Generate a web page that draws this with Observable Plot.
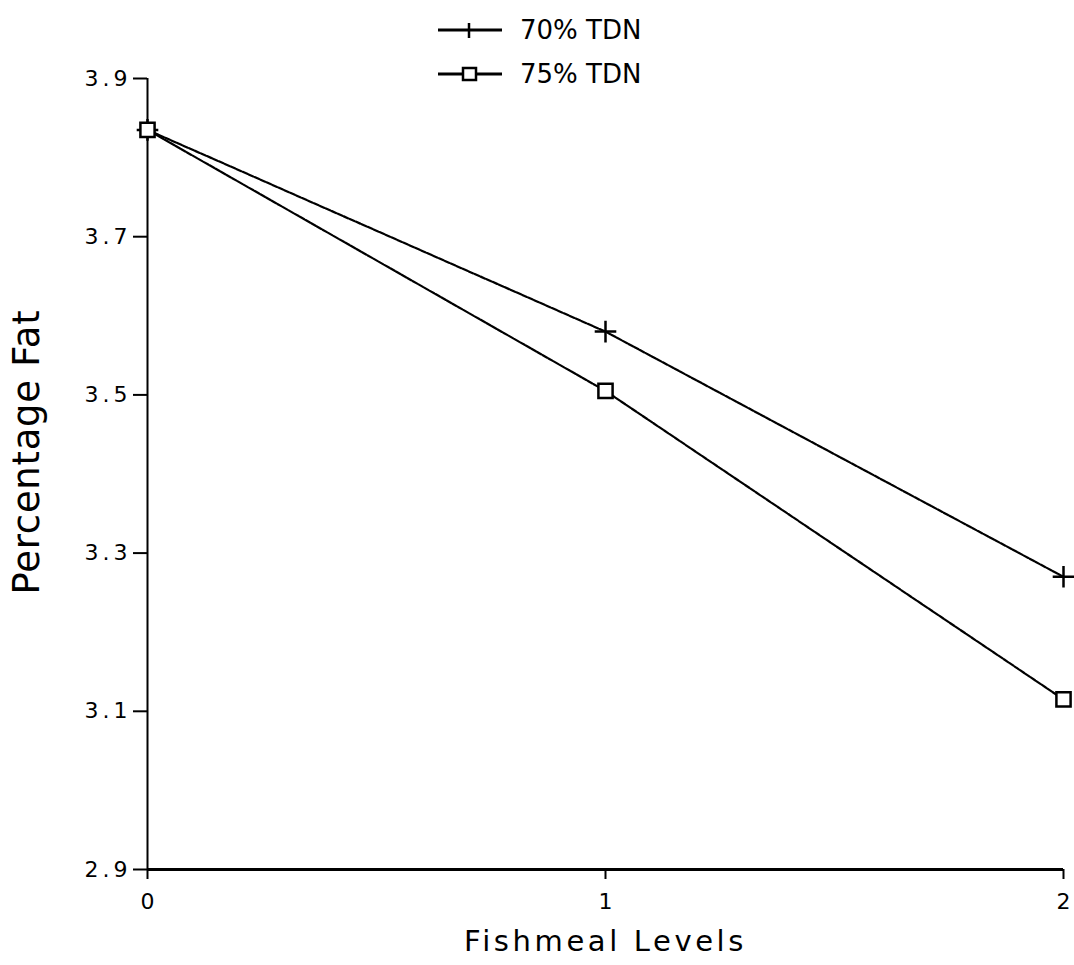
<!DOCTYPE html>
<html>
<head>
<meta charset="utf-8">
<script src="https://cdn.jsdelivr.net/npm/d3@7"></script>
<script src="https://cdn.jsdelivr.net/npm/@observablehq/plot@0.6"></script>
<style>
  body { margin: 0; background: #fff; font-family: "DejaVu Sans", sans-serif; }
  #wrap { position: relative; width: 1074px; height: 965px; }
  #legend { position: absolute; left: 438px; top: 8px; font-size: 26px; color: #000; }
  #legend .row { display: flex; align-items: center; height: 44px; }
  #legend svg { margin-right: 18px; }
</style>
</head>
<body>
<div id="wrap">
  <div id="chart"></div>
  <div id="legend"></div>
</div>
<script>
const levels = [0, 1, 2];
const seriesNames = ["70% TDN", "75% TDN"];
const fat70 = [3.835, 3.58, 3.27];
const fat75 = [3.835, 3.505, 3.115];
const yTicks = [2.9, 3.1, 3.3, 3.5, 3.7, 3.9];
const xTicks = [0, 1, 2];
const xTitle = "Fishmeal Levels";
const yTitle = "Percentage Fat";

const data = [
  ...levels.map((x, i) => ({ level: x, fat: fat70[i], series: seriesNames[0] })),
  ...levels.map((x, i) => ({ level: x, fat: fat75[i], series: seriesNames[1] }))
];

const FONT = "DejaVu Sans, sans-serif";

const chart = Plot.plot({
  width: 1074,
  height: 965,
  marginLeft: 147,
  marginRight: 11,
  marginTop: 78,
  marginBottom: 96,
  style: { fontFamily: FONT, fontSize: "22px", color: "#000", background: "#fff" },
  x: { domain: [0, 2], label: null },
  y: { domain: [2.9, 3.9], label: null },
  marks: [
    Plot.axisX({ ticks: xTicks, tickFormat: d => String(d), tickSize: 10, tickPadding: 14, fontSize: 22, strokeWidth: 2, label: null }),
    Plot.axisY({ ticks: yTicks, tickFormat: d => d.toFixed(1), tickSize: 14, tickPadding: 2, fontSize: 22, strokeWidth: 2, label: null }),
    Plot.ruleX([0], { stroke: "#000", strokeWidth: 2 }),
    Plot.ruleY([2.9], { stroke: "#000", strokeWidth: 3 }),
    Plot.line(data, { x: "level", y: "fat", z: "series", stroke: "#000", strokeWidth: 2.2, strokeDasharray: "5,1.5" }),
    Plot.dot(data.filter(d => d.series === seriesNames[0]), { x: "level", y: "fat", symbol: "plus", r: 7, stroke: "#000", strokeWidth: 2.5 }),
    Plot.dot(data.filter(d => d.series === seriesNames[1]), { x: "level", y: "fat", symbol: "square", r: 8, stroke: "#000", fill: "#fff", strokeWidth: 2.5 }),
    Plot.text([xTitle], { frameAnchor: "bottom", lineAnchor: "middle", dy: 72, fontSize: 29, text: d => d }),
    Plot.text([yTitle], { frameAnchor: "left", textAnchor: "middle", lineAnchor: "middle", dx: -120, dy: -22, rotate: -90, fontSize: 37, text: d => d })
  ]
});
document.getElementById("chart").appendChild(chart);

// letter spacing tweaks to mimic the wide plotter lettering
d3.select(chart).selectAll('g[aria-label="y-axis tick label"] text').style("letter-spacing", "4px");
d3.select(chart).selectAll("text").each(function () {
  const t = this.textContent;
  if (t === xTitle) this.style.letterSpacing = "3.6px";
  if (t === yTitle) this.style.letterSpacing = "0.7px";
});

// legend
const legend = document.getElementById("legend");
seriesNames.forEach((name, i) => {
  const row = document.createElement("div");
  row.className = "row";
  const ns = "http://www.w3.org/2000/svg";
  const s = document.createElementNS(ns, "svg");
  s.setAttribute("width", "64");
  s.setAttribute("height", "20");
  const ln = document.createElementNS(ns, "line");
  ln.setAttribute("x1", "0"); ln.setAttribute("x2", "64");
  ln.setAttribute("y1", "10"); ln.setAttribute("y2", "10");
  ln.setAttribute("stroke", "#000"); ln.setAttribute("stroke-width", "3");
  s.appendChild(ln);
  if (i === 0) {
    const v = document.createElementNS(ns, "line");
    v.setAttribute("x1", "31"); v.setAttribute("x2", "31");
    v.setAttribute("y1", "3"); v.setAttribute("y2", "18");
    v.setAttribute("stroke", "#000"); v.setAttribute("stroke-width", "2.5");
    s.appendChild(v);
  } else {
    const r = document.createElementNS(ns, "rect");
    r.setAttribute("x", "25"); r.setAttribute("y", "4");
    r.setAttribute("width", "13"); r.setAttribute("height", "12");
    r.setAttribute("fill", "#fff"); r.setAttribute("stroke", "#000"); r.setAttribute("stroke-width", "2.5");
    s.appendChild(r);
  }
  row.appendChild(s);
  const t = document.createElement("span");
  t.textContent = name;
  row.appendChild(t);
  legend.appendChild(row);
});
</script>
</body>
</html>
